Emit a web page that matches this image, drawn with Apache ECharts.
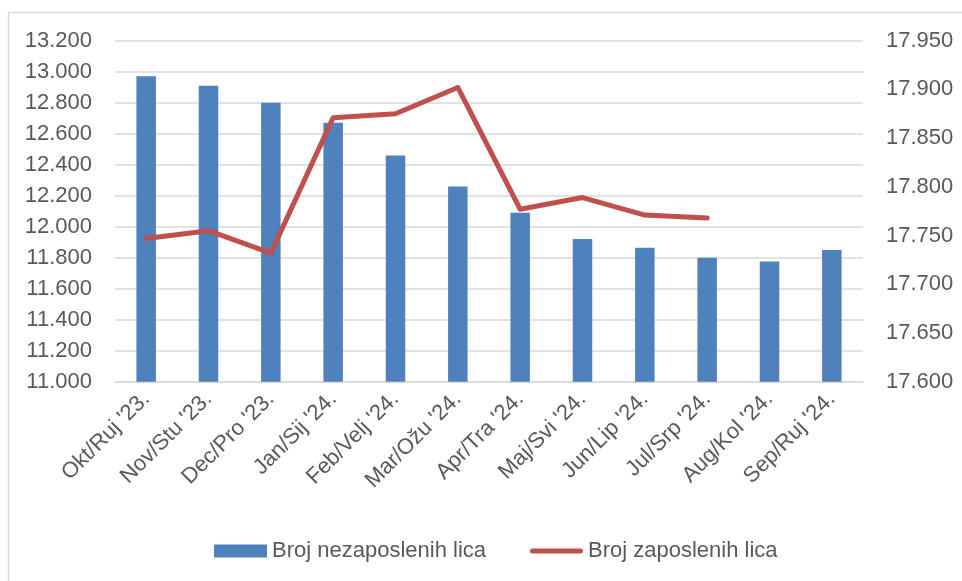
<!DOCTYPE html>
<html>
<head>
<meta charset="utf-8">
<script src="https://cdn.jsdelivr.net/npm/echarts@6/dist/echarts.min.js"></script>
<style>
html,body{margin:0;padding:0;background:#fff;}
#c{width:962px;height:581px;}
</style>
</head>
<body>
<div id="c"></div>
<script>
var categories = ["Okt/Ruj '23.", "Nov/Stu '23.", "Dec/Pro '23.", "Jan/Sij '24.", "Feb/Velj '24.", "Mar/Ožu '24.", "Apr/Tra '24.", "Maj/Svi '24.", "Jun/Lip '24.", "Jul/Srp '24.", "Aug/Kol '24.", "Sep/Ruj '24."];
var unemployed = [12970, 12910, 12800, 12670, 12460, 12260, 12090, 11920, 11865, 11800, 11775, 11850];
var employed = [17747, 17755, 17732, 17871, 17875, 17902, 17777, 17789, 17771, 17768, null, null];
var seriesNames = ["Broj nezaposlenih lica", "Broj zaposlenih lica"];
var leftAxis = {min: 11000, max: 13200, interval: 200};
var rightAxis = {min: 17600, max: 17950, interval: 50};

function fmt(v){ return String(v).replace(/\B(?=(\d{3})+(?!\d))/g, '.'); }

var FONT = 'Liberation Sans';
var TXT = '#595959';
var GRID = '#D9D9D9';

var chart = echarts.init(document.getElementById('c'), null, {renderer: 'canvas'});
chart.setOption({
  animation: false,
  backgroundColor: '#ffffff',
  textStyle: {fontFamily: FONT},
  graphic: [{
    type: 'rect',
    shape: {x: 8.5, y: 12.5, width: 1000, height: 700},
    style: {fill: 'none', stroke: GRID, lineWidth: 1.5},
    silent: true, z: -10
  }],
  grid: {left: 115, right: 99, top: 40.7, bottom: 199.3, containLabel: false},
  legend: {
    left: 209, top: 535,
    itemWidth: 53, itemHeight: 13, itemGap: 44,
    textStyle: {fontFamily: FONT, fontSize: 22, color: TXT},
    data: [
      {name: seriesNames[0], icon: 'rect'},
      {name: seriesNames[1], icon: 'path://M0,0 M53,13 M2.5,4 L50.5,4 A2.5,2.5 0 0 1 50.5,9 L2.5,9 A2.5,2.5 0 0 1 2.5,4 Z'}
    ]
  },
  xAxis: {
    type: 'category',
    data: categories,
    axisTick: {show: false},
    axisLine: {show: true, lineStyle: {color: GRID, width: 1.5}},
    axisLabel: {rotate: 45, margin: 14, interval: 0, fontFamily: FONT, fontSize: 22, color: TXT}
  },
  yAxis: [{
    type: 'value',
    min: leftAxis.min, max: leftAxis.max, interval: leftAxis.interval,
    axisLine: {show: false}, axisTick: {show: false},
    splitLine: {show: true, lineStyle: {color: GRID, width: 1.5}},
    axisLabel: {formatter: fmt, margin: 23, fontFamily: FONT, fontSize: 22, color: TXT}
  }, {
    type: 'value',
    min: rightAxis.min, max: rightAxis.max, interval: rightAxis.interval,
    axisLine: {show: false}, axisTick: {show: false},
    splitLine: {show: false},
    axisLabel: {formatter: fmt, margin: 23, fontFamily: FONT, fontSize: 22, color: TXT}
  }],
  series: [{
    name: seriesNames[0],
    type: 'bar',
    yAxisIndex: 0,
    data: unemployed,
    barWidth: 19.5,
    itemStyle: {color: '#4F81BD'},
    z: 2
  }, {
    name: seriesNames[1],
    type: 'line',
    yAxisIndex: 1,
    data: employed,
    symbol: 'none',
    connectNulls: false,
    lineStyle: {color: '#C0504D', width: 5, cap: 'round', join: 'round'},
    itemStyle: {color: '#C0504D'},
    z: 3
  }]
});
</script>
</body>
</html>
